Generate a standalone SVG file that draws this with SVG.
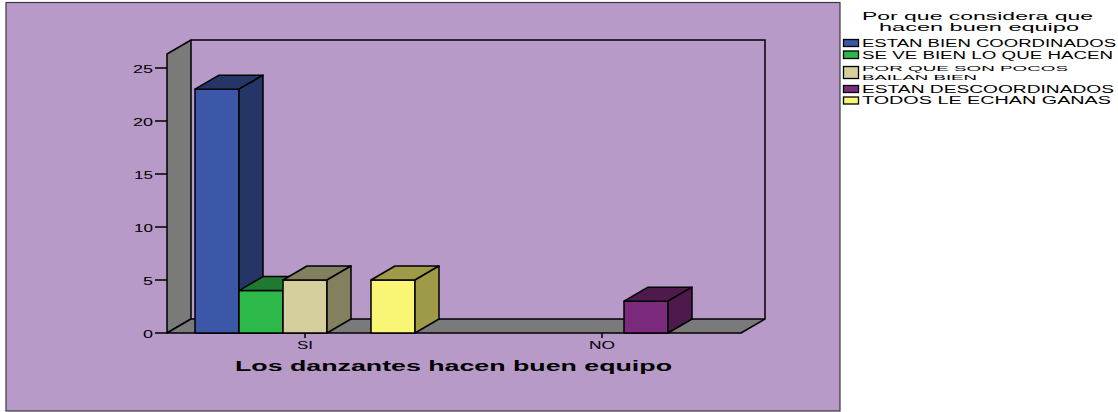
<svg xmlns="http://www.w3.org/2000/svg" width="1118" height="412" viewBox="0 0 1118 412">
<style>
.t{font-family:"Liberation Sans",Arial,sans-serif;fill:#000}
.ax{font-size:10px}
.lg{font-size:10px}
.lg2{font-size:8px}
.ttl{font-size:11px}
.bt{font-size:14.5px;font-weight:bold}
.ln{stroke:#000;stroke-width:1.5;fill:none}
.e{stroke:#000;stroke-width:1.5;stroke-linejoin:round}
.wall{fill:#7a7a7a}
.sw{stroke:#000;stroke-width:1.3}
</style>
<rect x="0" y="0" width="1118" height="412" fill="#ffffff"/>
<g id="panel">
<rect x="6" y="2.5" width="834" height="408.5" fill="#b89ac8" stroke="#3a3a3a" stroke-width="1.2"/>
</g>
<g id="plot-frame">
<polygon class="wall e" points="167,54 191,40 191,319 167,333"/>
<polygon class="wall e" points="167,333 191,319 765,319 741,333"/>
<polyline class="ln" points="191,40 765,40 765,319" stroke="#222"/>
</g>
<g id="y-axis">
<g class="ln" stroke-width="1.3">
<line x1="155" y1="333" x2="167" y2="333"/>
<line x1="155" y1="280" x2="167" y2="280"/>
<line x1="155" y1="227" x2="167" y2="227"/>
<line x1="155" y1="174" x2="167" y2="174"/>
<line x1="155" y1="121" x2="167" y2="121"/>
<line x1="155" y1="68" x2="167" y2="68"/>
</g>
<g class="t ax" text-anchor="end">
<text x="153" y="338" textLength="10" lengthAdjust="spacingAndGlyphs">0</text>
<text x="153" y="285" textLength="10" lengthAdjust="spacingAndGlyphs">5</text>
<text x="153" y="232" textLength="19" lengthAdjust="spacingAndGlyphs">10</text>
<text x="153" y="179" textLength="19" lengthAdjust="spacingAndGlyphs">15</text>
<text x="153" y="126" textLength="20" lengthAdjust="spacingAndGlyphs">20</text>
<text x="153" y="73" textLength="20" lengthAdjust="spacingAndGlyphs">25</text>
</g>
</g>
<g id="bar-si-coordinados">
<rect class="e" x="195" y="89.2" width="44" height="243.8" fill="#3d57a8"/>
<polygon class="e" points="195,89.2 219,75.2 263,75.2 239,89.2" fill="#253566"/>
<polygon class="e" points="239,89.2 263,75.2 263,319 239,333" fill="#253566"/>
</g>
<g id="bar-si-seve">
<rect class="e" x="239" y="290.6" width="44" height="42.4" fill="#2db84a"/>
<polygon class="e" points="239,290.6 263,276.6 307,276.6 283,290.6" fill="#1e7a31"/>
<polygon class="e" points="283,290.6 307,276.6 307,319 283,333" fill="#1e7a31"/>
</g>
<g id="bar-si-pocos">
<rect class="e" x="283" y="280" width="44" height="53" fill="#d4cf9c"/>
<polygon class="e" points="283,280 307,266 351,266 327,280" fill="#838060"/>
<polygon class="e" points="327,280 351,266 351,319 327,333" fill="#838060"/>
</g>
<g id="bar-si-ganas">
<rect class="e" x="371" y="280" width="44" height="53" fill="#f9f675"/>
<polygon class="e" points="371,280 395,266 439,266 415,280" fill="#9e9a48"/>
<polygon class="e" points="415,280 439,266 439,319 415,333" fill="#9e9a48"/>
</g>
<g id="bar-no-descoordinados">
<rect class="e" x="624" y="301.2" width="44" height="31.8" fill="#7c2a7b"/>
<polygon class="e" points="624,301.2 648,287.2 692,287.2 668,301.2" fill="#4e1a4c"/>
<polygon class="e" points="668,301.2 692,287.2 692,319 668,333" fill="#4e1a4c"/>
</g>
<g id="x-axis">
<line class="ln" x1="305" y1="333" x2="305" y2="338"/>
<line class="ln" x1="602" y1="333" x2="602" y2="338"/>
<text class="t" x="305" y="348.5" font-size="11" text-anchor="middle" textLength="16" lengthAdjust="spacingAndGlyphs">SI</text>
<text class="t" x="602" y="348.5" font-size="11" text-anchor="middle" textLength="26" lengthAdjust="spacingAndGlyphs">NO</text>
<text class="t bt" x="453.5" y="371" text-anchor="middle" textLength="437" lengthAdjust="spacingAndGlyphs">Los danzantes hacen buen equipo</text>
</g>
<g id="legend">
<g class="t ttl" text-anchor="middle">
<text x="977.5" y="20" textLength="231" lengthAdjust="spacingAndGlyphs">Por que considera que</text>
<text x="979" y="30.5" textLength="200" lengthAdjust="spacingAndGlyphs">hacen buen equipo</text>
</g>
<g id="legend-coordinados">
<rect class="sw" x="843.5" y="39.5" width="15" height="7" fill="#3d57a8"/>
<text class="t lg" x="862" y="47" textLength="254" lengthAdjust="spacingAndGlyphs">ESTAN BIEN COORDINADOS</text>
</g>
<g id="legend-seve">
<rect class="sw" x="843.5" y="51" width="15" height="7.5" fill="#2db84a"/>
<text class="t lg" x="862" y="58.5" textLength="251" lengthAdjust="spacingAndGlyphs">SE VE BIEN LO QUE HACEN</text>
</g>
<g id="legend-pocos">
<rect class="sw" x="843.5" y="66.5" width="15" height="12" fill="#d4cf9c"/>
<text class="t lg2" x="862" y="70.5" textLength="206" lengthAdjust="spacingAndGlyphs">POR QUE SON POCOS</text>
<text class="t lg2" x="862" y="79.5" textLength="115" lengthAdjust="spacingAndGlyphs">BAILAN BIEN</text>
</g>
<g id="legend-descoordinados">
<rect class="sw" x="843.5" y="85.5" width="15" height="7" fill="#7c2a7b"/>
<text class="t lg" x="862" y="92.7" textLength="252" lengthAdjust="spacingAndGlyphs">ESTAN DESCOORDINADOS</text>
</g>
<g id="legend-ganas">
<rect class="sw" x="843.5" y="97" width="15" height="7" fill="#f9f675"/>
<text class="t lg" x="862" y="104" textLength="249" lengthAdjust="spacingAndGlyphs">TODOS LE ECHAN GANAS</text>
</g>
</g>
</svg>
